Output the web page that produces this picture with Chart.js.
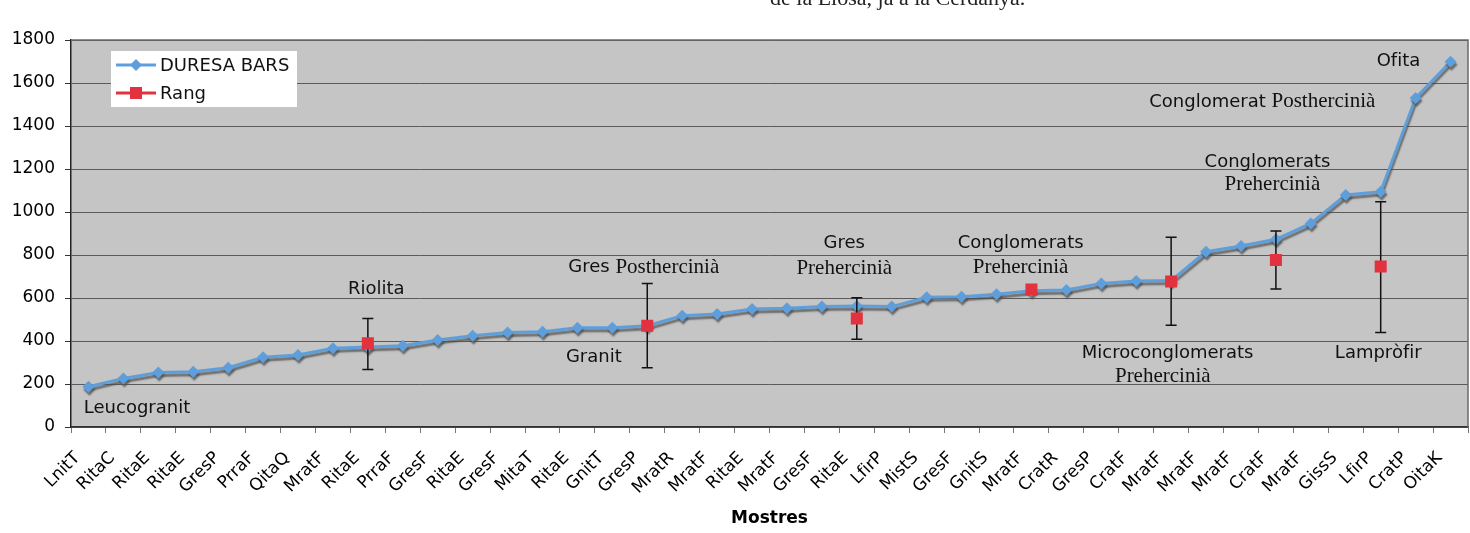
<!DOCTYPE html>
<html lang="ca">
<head>
<meta charset="UTF-8">
<title>Duresa Bars - Mostres</title>
<script src="https://cdn.jsdelivr.net/npm/chart.js"></script>
<style>
  body { margin: 0; background: #fff; overflow: hidden; }
  .wrap { position: relative; width: 1470px; height: 533px; overflow: hidden; }
  .tall { position: absolute; left: 770px; top: -15px; font: 22px "Liberation Serif", serif; white-space: nowrap; color: #222; }
  canvas { position: absolute; left: 0; top: 0; }
</style>
</head>
<body>
<div class="wrap">
  <canvas id="chart" width="1470" height="533"></canvas>
  <div class="tall">de la Llosa, ja a la Cerdanya.</div>
</div>
<script>
// mostres (eix X)
const mostres = ['LnitT','RitaC','RitaE','RitaE','GresP','PrraF','QitaQ','MratF','RitaE','PrraF',
  'GresF','RitaE','GresF','MitaT','RitaE','GnitT','GresP','MratR','MratF','RitaE',
  'MratF','GresF','RitaE','LfirP','MistS','GresF','GnitS','MratF','CratR','GresP',
  'CratF','MratF','MratF','MratF','CratF','MratF','GissS','LfirP','CratP','OitaK'];

// duresa mitjana de cada mostra
const duresa = [187,226,253,257,276,324,335,366,372,378,
  405,425,440,443,462,462,471,518,526,549,
  552,560,563,560,603,606,617,634,637,668,
  679,681,815,842,873,947,1079,1094,1530,1699];

// rang per litologia (valor central + extrems)
const rang    = [null,null,null,null,null,null,null,null,389,null,
  null,null,null,null,null,null,471,null,null,null,
  null,null,505,null,null,null,null,640,null,null,
  null,677,null,null,777,null,null,746,null,null];
const rangMin = [null,null,null,null,null,null,null,null,268,null,
  null,null,null,null,null,null,276,null,null,null,
  null,null,408,null,null,null,null,null,null,null,
  null,473,null,null,642,null,null,439,null,null];
const rangMax = [null,null,null,null,null,null,null,null,505,null,
  null,null,null,null,null,null,668,null,null,null,
  null,null,601,null,null,null,null,null,null,null,
  null,882,null,null,912,null,null,1048,null,null];

const SANS = '"DejaVu Sans", Verdana, sans-serif';
const SERIF = '"Liberation Serif", "Times New Roman", serif';
const BLUE = '#5e9fdb';
const RED = '#e3323f';

// etiquetes de litologia: posicio en (index mostra, duresa)
const etiquetes = [
  { i: 1.39, v: 88,   parts: [['Leucogranit', 's']] },
  { i: 8.24, v: 642,  parts: [['Riolita', 's']] },
  { i: 15.9, v: 744, parts: [['Gres ', 's'], ['Posthercinià', 'r']] },
  { i: 14.47, v: 326, parts: [['Granit', 's']] },
  { i: 21.64, v: 856, parts: [['Gres', 's']] },
  { i: 21.64, v: 735, parts: [['Prehercinià', 'r']] },
  { i: 26.69, v: 856, parts: [['Conglomerats', 's']] },
  { i: 26.69, v: 744, parts: [['Prehercinià', 'r']] },
  { i: 30.9, v: 344,  parts: [['Microconglomerats', 's']] },
  { i: 30.76, v: 233, parts: [['Prehercinià', 'r']] },
  { i: 36.93, v: 344, parts: [['Lampròfir', 's']] },
  { i: 37.51, v: 1702, parts: [['Ofita', 's']] },
  { i: 33.61, v: 1512, parts: [['Conglomerat ', 's'], ['Posthercinià', 'r']] },
  { i: 33.76, v: 1233, parts: [['Conglomerats', 's']] },
  { i: 33.9, v: 1130, parts: [['Prehercinià', 'r']] }
];

const plotBg = {
  id: 'plotBg',
  beforeDraw(chart) {
    const { ctx, chartArea: a } = chart;
    ctx.save();
    ctx.fillStyle = '#c4c5c4';
    ctx.fillRect(a.left, a.top, a.right - a.left, a.bottom - a.top);
    ctx.restore();
  },
  beforeDatasetsDraw(chart) {
    const { ctx, chartArea: a } = chart;
    ctx.save();
    ctx.strokeStyle = '#6a6a6a';
    ctx.lineWidth = 1.5;
    ctx.beginPath();
    ctx.moveTo(a.left, a.top);
    ctx.lineTo(a.right, a.top);
    ctx.lineTo(a.right, a.bottom);
    ctx.stroke();
    ctx.restore();
  }
};

// ombra de la linia + barres d'error del rang
const seriesFx = {
  id: 'seriesFx',
  beforeDatasetDraw(chart, args) {
    const ctx = chart.ctx;
    if (args.index === 0) {
      ctx.save();
      ctx.shadowColor = 'rgba(80,80,80,0.75)';
      ctx.shadowOffsetX = 1;
      ctx.shadowOffsetY = 3;
      ctx.shadowBlur = 1.5;
    } else {
      const x = chart.scales.x, y = chart.scales.y;
      ctx.save();
      ctx.strokeStyle = '#111';
      ctx.lineWidth = 1.5;
      rangMin.forEach((lo, k) => {
        if (lo === null) return;
        const px = x.getPixelForValue(k);
        const y1 = y.getPixelForValue(lo), y2 = y.getPixelForValue(rangMax[k]);
        ctx.beginPath();
        ctx.moveTo(px, y1); ctx.lineTo(px, y2);
        ctx.moveTo(px - 5.5, y1); ctx.lineTo(px + 5.5, y1);
        ctx.moveTo(px - 5.5, y2); ctx.lineTo(px + 5.5, y2);
        ctx.stroke();
      });
      ctx.restore();
    }
  },
  afterDatasetDraw(chart, args) {
    if (args.index === 0) chart.ctx.restore();
  }
};

const labelsPlugin = {
  id: 'litoLabels',
  afterDatasetsDraw(chart) {
    const ctx = chart.ctx, x = chart.scales.x, y = chart.scales.y;
    ctx.save();
    ctx.fillStyle = '#111';
    ctx.textBaseline = 'middle';
    ctx.textAlign = 'left';
    etiquetes.forEach(e => {
      const fonts = e.parts.map(p => p[1] === 's' ? '18px ' + SANS : '21px ' + SERIF);
      let w = 0;
      e.parts.forEach((p, k) => { ctx.font = fonts[k]; w += ctx.measureText(p[0]).width; });
      let cx = x.getPixelForValue(e.i) - w / 2;
      const cy = y.getPixelForValue(e.v);
      e.parts.forEach((p, k) => {
        ctx.font = fonts[k];
        ctx.fillText(p[0], cx, cy);
        cx += ctx.measureText(p[0]).width;
      });
    });
    ctx.restore();
  }
};

const legendBox = {
  id: 'legendBox',
  afterDraw(chart) {
    const ctx = chart.ctx, a = chart.chartArea;
    const lx = a.left + 40, ly = a.top + 11;
    ctx.save();
    ctx.fillStyle = '#fff';
    ctx.fillRect(lx, ly, 186, 56);
    // DURESA BARS
    ctx.strokeStyle = BLUE; ctx.lineWidth = 3;
    ctx.beginPath(); ctx.moveTo(lx + 5, ly + 14); ctx.lineTo(lx + 45, ly + 14); ctx.stroke();
    ctx.fillStyle = BLUE;
    ctx.beginPath();
    ctx.moveTo(lx + 25, ly + 8); ctx.lineTo(lx + 31, ly + 14);
    ctx.lineTo(lx + 25, ly + 20); ctx.lineTo(lx + 19, ly + 14); ctx.closePath(); ctx.fill();
    // Rang
    ctx.strokeStyle = RED;
    ctx.beginPath(); ctx.moveTo(lx + 5, ly + 42); ctx.lineTo(lx + 45, ly + 42); ctx.stroke();
    ctx.fillStyle = RED;
    ctx.fillRect(lx + 19, ly + 36, 12, 12);
    ctx.fillStyle = '#111';
    ctx.font = '18px ' + SANS;
    ctx.textBaseline = 'middle';
    ctx.fillText('DURESA BARS', lx + 49, ly + 15);
    ctx.fillText('Rang', lx + 49, ly + 43);
    ctx.restore();
  }
};

new Chart(document.getElementById('chart'), {
  type: 'line',
  data: {
    labels: mostres,
    datasets: [{
      label: 'DURESA BARS',
      data: duresa,
      order: 2,
      borderColor: BLUE,
      backgroundColor: BLUE,
      borderWidth: 3,
      pointStyle: 'rectRot',
      pointRadius: 6,
      pointBorderWidth: 0,
      tension: 0
    }, {
      label: 'Rang',
      data: rang,
      order: 1,
      showLine: false,
      borderColor: RED,
      backgroundColor: RED,
      pointStyle: 'rect',
      pointRadius: 8.5,
      pointBorderWidth: 0
    }]
  },
  options: {
    responsive: false,
    animation: false,
    devicePixelRatio: 1,
    layout: { autoPadding: false, padding: { top: 40, right: 2, bottom: 4, left: 0 } },
    plugins: { legend: { display: false }, tooltip: { enabled: false } },
    scales: {
      x: {
        offset: true,
        grid: { drawOnChartArea: false, tickLength: 6, color: '#777', offset: true },
        border: { color: '#333', width: 1.5 },
        ticks: {
          autoSkip: false, minRotation: 45, maxRotation: 45,
          color: '#000', font: { family: SANS, size: 17 }, padding: 15, labelOffset: -11
        },
        title: { display: true, text: 'Mostres', color: '#000',
          font: { family: SANS, size: 17, weight: 'bold' }, padding: { top: 0, bottom: 0 } },
        afterFit(s) { s.height = 102; s.paddingRight = 0; s.paddingLeft = 0; }
      },
      y: {
        min: 0, max: 1800,
        grid: { color: '#5a5a5a', lineWidth: 1, tickLength: 6, tickColor: '#333' },
        border: { color: '#222', width: 1.5 },
        ticks: { stepSize: 200, color: '#000', font: { family: SANS, size: 17 }, padding: 10,
          callback: v => String(v) },
        afterFit(s) { s.width = 71; }
      }
    }
  },
  plugins: [plotBg, seriesFx, labelsPlugin, legendBox]
});
</script>
</body>
</html>
